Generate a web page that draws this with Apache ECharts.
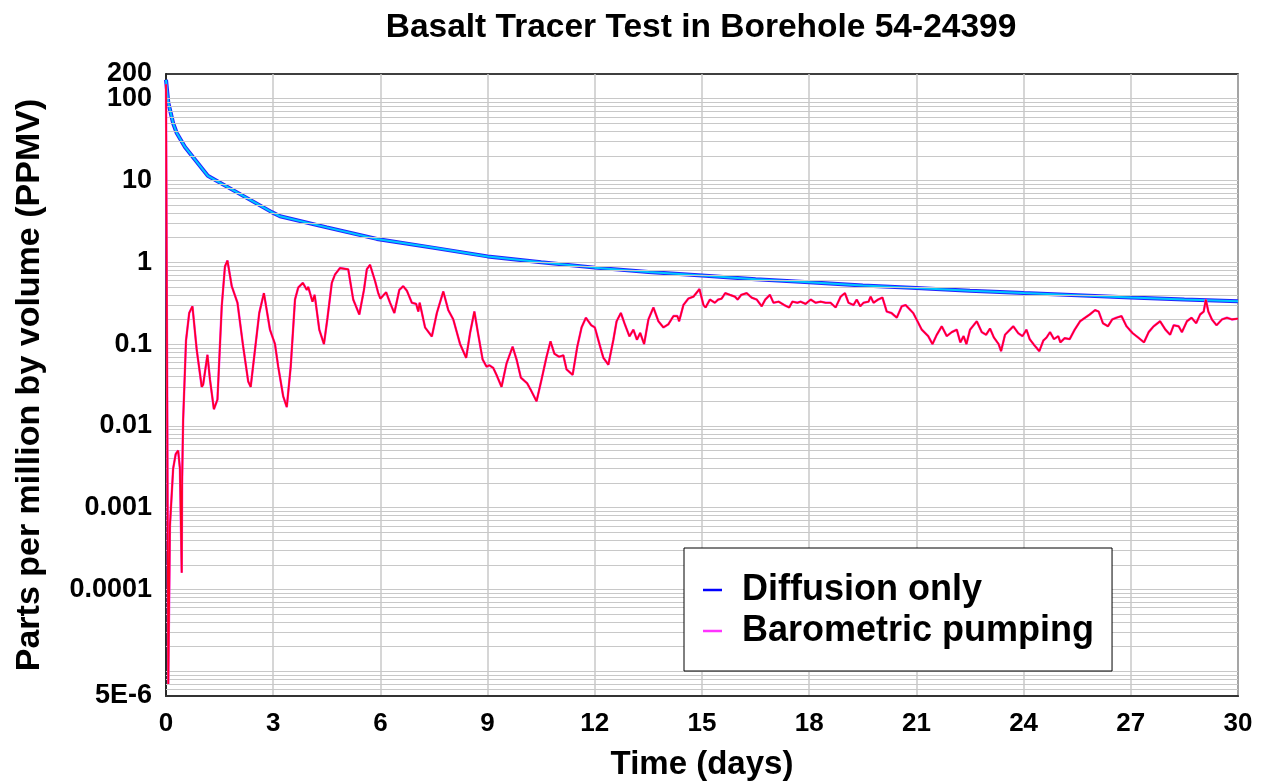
<!DOCTYPE html>
<html>
<head>
<meta charset="utf-8">
<script src="https://cdn.jsdelivr.net/npm/echarts@6/dist/echarts.min.js"></script>
<style>
  html, body { margin: 0; padding: 0; background: #fff; }
  #chart { width: 1266px; height: 783px; }
</style>
</head>
<body>
<div id="chart"></div>
<script>
// diffusion only (days, ppmv)
const diffTime = [0, 0.065, 0.2, 0.3, 0.53, 1.17, 2.0, 2.96, 3.19, 4.5, 5.9, 7.5, 9, 10.5, 12, 13.5, 15, 16.5, 18, 19.5, 21, 22.5, 24, 25.5, 27, 28.5, 30];
const diffPpmv = [170, 89, 50, 38, 25.7, 11.4, 7.1, 4.1, 3.65, 2.67, 1.93, 1.5, 1.18, 1.0, 0.86, 0.76, 0.69, 0.62, 0.57, 0.52, 0.485, 0.45, 0.42, 0.395, 0.37, 0.35, 0.333];

// barometric pumping (days, ppmv)
const baroTime = [0, 0.064, 0.11, 0.2, 0.27, 0.34, 0.39, 0.44, 0.45, 0.48, 0.56, 0.65, 0.74, 0.86, 1.0, 1.04, 1.16, 1.23, 1.34, 1.44,
  1.56, 1.65, 1.72, 1.84, 2.0, 2.16, 2.3, 2.37, 2.49, 2.61, 2.74, 2.91, 3.05, 3.14, 3.28, 3.38, 3.49, 3.61, 3.70, 3.83,
  3.94, 3.98, 4.1, 4.16, 4.29, 4.42, 4.52, 4.64, 4.73, 4.87, 5.1, 5.24, 5.41, 5.54, 5.62, 5.71, 5.85, 5.94, 6.0, 6.16,
  6.27, 6.39, 6.53, 6.64, 6.74, 6.88, 7.0, 7.06, 7.1, 7.25, 7.44, 7.58, 7.76, 7.9, 8.04, 8.23, 8.40, 8.51, 8.63, 8.73,
  8.86, 8.97, 9.05, 9.16, 9.25, 9.39, 9.53, 9.70, 9.81, 9.93, 10.11, 10.2, 10.37, 10.51, 10.65, 10.76, 10.87, 11.0, 11.12, 11.21,
  11.38, 11.51, 11.63, 11.75, 11.9, 12.0, 12.15, 12.24, 12.38, 12.52, 12.61, 12.73, 12.83, 12.97, 13.08, 13.18, 13.27, 13.38, 13.5, 13.64,
  13.78, 13.92, 14.06, 14.2, 14.31, 14.36, 14.48, 14.62, 14.76, 14.93, 15.04, 15.1, 15.22, 15.36, 15.45, 15.55, 15.65, 15.78, 15.92, 16.0,
  16.1, 16.25, 16.39, 16.53, 16.67, 16.77, 16.9, 17.0, 17.15, 17.3, 17.44, 17.53, 17.67, 17.76, 17.9, 18.04, 18.18, 18.32, 18.46, 18.6,
  18.74, 18.88, 19.0, 19.1, 19.24, 19.33, 19.43, 19.52, 19.66, 19.72, 19.8, 19.93, 20.05, 20.17, 20.3, 20.45, 20.59, 20.7, 20.91, 21.15,
  21.33, 21.45, 21.57, 21.71, 21.85, 21.99, 22.13, 22.23, 22.32, 22.4, 22.5, 22.69, 22.83, 22.95, 23.06, 23.17, 23.3, 23.37, 23.48, 23.62,
  23.71, 23.85, 23.97, 24.08, 24.17, 24.3, 24.44, 24.55, 24.64, 24.74, 24.85, 24.97, 25.03, 25.15, 25.29, 25.43, 25.58, 25.72, 25.85, 26.0,
  26.1, 26.22, 26.36, 26.48, 26.6, 26.74, 26.88, 27.05, 27.21, 27.37, 27.5, 27.64, 27.82, 27.97, 28.1, 28.2, 28.34, 28.43, 28.57, 28.7,
  28.83, 28.94, 29.04, 29.1, 29.17, 29.27, 29.4, 29.55, 29.69, 29.83, 30.0];
const baroPpmv = [150, 7e-6, 0.0006, 0.003, 0.0045, 0.005, 0.003, 1.6e-4, 0.002, 0.012, 0.11, 0.24, 0.29, 0.085, 0.030, 0.032, 0.074, 0.037, 0.016, 0.021,
  0.29, 0.89, 1.05, 0.51, 0.32, 0.093, 0.035, 0.030, 0.085, 0.24, 0.42, 0.15, 0.10, 0.053, 0.023, 0.017, 0.053, 0.35, 0.49, 0.56,
  0.46, 0.50, 0.33, 0.40, 0.15, 0.10, 0.21, 0.56, 0.71, 0.85, 0.82, 0.35, 0.23, 0.46, 0.82, 0.93, 0.59, 0.42, 0.36, 0.43,
  0.32, 0.24, 0.46, 0.51, 0.45, 0.32, 0.31, 0.25, 0.32, 0.16, 0.124, 0.24, 0.44, 0.26, 0.20, 0.10, 0.068, 0.137, 0.25, 0.137,
  0.065, 0.053, 0.055, 0.051, 0.042, 0.030, 0.058, 0.093, 0.065, 0.039, 0.033, 0.028, 0.020, 0.037, 0.070, 0.108, 0.076, 0.07, 0.073, 0.049,
  0.042, 0.093, 0.16, 0.21, 0.17, 0.16, 0.093, 0.068, 0.056, 0.113, 0.19, 0.24, 0.18, 0.124, 0.15, 0.113, 0.137, 0.10, 0.20, 0.28,
  0.19, 0.16, 0.175, 0.22, 0.22, 0.19, 0.30, 0.36, 0.38, 0.47, 0.30, 0.28, 0.35, 0.32, 0.35, 0.36, 0.42, 0.40, 0.38, 0.35,
  0.40, 0.42, 0.37, 0.35, 0.29, 0.35, 0.40, 0.32, 0.33, 0.30, 0.28, 0.33, 0.32, 0.33, 0.31, 0.35, 0.32, 0.33, 0.32, 0.32,
  0.28, 0.38, 0.42, 0.32, 0.30, 0.35, 0.29, 0.32, 0.33, 0.38, 0.32, 0.35, 0.37, 0.25, 0.24, 0.21, 0.29, 0.30, 0.24, 0.15,
  0.125, 0.10, 0.13, 0.165, 0.125, 0.14, 0.15, 0.105, 0.125, 0.10, 0.15, 0.19, 0.14, 0.13, 0.155, 0.12, 0.10, 0.082, 0.13, 0.15,
  0.165, 0.136, 0.125, 0.15, 0.115, 0.097, 0.082, 0.11, 0.12, 0.14, 0.115, 0.125, 0.105, 0.118, 0.115, 0.15, 0.19, 0.21, 0.23, 0.26,
  0.25, 0.18, 0.165, 0.20, 0.21, 0.22, 0.165, 0.136, 0.12, 0.105, 0.14, 0.165, 0.19, 0.15, 0.13, 0.17, 0.165, 0.14, 0.19, 0.21,
  0.18, 0.23, 0.25, 0.35, 0.25, 0.20, 0.17, 0.20, 0.21, 0.20, 0.205];

// y tick labels
const yTickValues = [5e-6, 1e-4, 1e-3, 0.01, 0.1, 1, 10, 100, 200];
const yTickText = ['5E-6', '0.0001', '0.001', '0.01', '0.1', '1', '10', '100', '200'];

const FONT = '"Liberation Sans", Arial, sans-serif';

function pairs(xs, ys) {
  return xs.map((x, i) => [x, ys[i]]);
}

function yLabel(v) {
  for (let i = 0; i < yTickValues.length; i++) {
    if (Math.abs(v - yTickValues[i]) / yTickValues[i] < 1e-6) return yTickText[i];
  }
  return '';
}

// log grid lines 1..9 x 10^e
const gridLines = [];
for (let e = -6; e <= 2; e++) {
  for (let k = 1; k <= 9; k++) {
    const v = k * Math.pow(10, e);
    if (v > 5.01e-6 && v < 199) gridLines.push({ yAxis: v });
  }
}

const yLabelStyle = { margin: 14, fontFamily: FONT, fontSize: 27, fontWeight: 'bold', color: '#000', lineHeight: 18 };

const chart = echarts.init(document.getElementById('chart'));
chart.setOption({
  animation: false,
  backgroundColor: '#fff',
  title: {
    text: 'Basalt Tracer Test in Borehole 54-24399',
    left: 696,
    top: 6,
    textAlign: 'center',
    textStyle: { fontFamily: FONT, fontSize: 33.5, fontWeight: 'bold', color: '#000' }
  },
  grid: {
    left: 166, right: 28, top: 74, bottom: 87,
    outerBoundsMode: 'none',
    containLabel: false,
    show: true, borderColor: '#000', borderWidth: 1.5, backgroundColor: '#fff'
  },
  legend: {
    orient: 'vertical',
    left: 684,
    top: 548,
    z: 50,
    padding: [23, 18, 21, 19],
    itemGap: 3,
    itemWidth: 19,
    itemHeight: 2.5,
    icon: 'rect',
    backgroundColor: '#fff',
    borderColor: '#000',
    borderWidth: 1,
    data: ['Diffusion only', 'Barometric pumping'],
    textStyle: {
      fontFamily: FONT, fontSize: 36, fontWeight: 'bold', color: '#000',
      lineHeight: 38, padding: [0, 0, 0, 15]
    }
  },
  xAxis: {
    type: 'value',
    min: 0, max: 30, interval: 3,
    name: 'Time (days)',
    nameLocation: 'middle',
    nameGap: 52,
    nameTextStyle: { fontFamily: FONT, fontSize: 33, fontWeight: 'bold', color: '#000' },
    axisLine: { show: true, lineStyle: { color: '#333', width: 2 } },
    axisTick: { show: false },
    axisLabel: { margin: 15, fontFamily: FONT, fontSize: 26, fontWeight: 'bold', color: '#000' },
    splitLine: { show: true, lineStyle: { color: '#c8c8c8', width: 1.5 } }
  },
  yAxis: [
    {
      type: 'log',
      logBase: 10,
      min: 5e-6, max: 200,
      name: 'Parts per million by volume (PPMV)',
      nameLocation: 'middle',
      nameGap: 119,
      nameTextStyle: { fontFamily: FONT, fontSize: 34, fontWeight: 'bold', color: '#000' },
      axisLine: { show: true, lineStyle: { color: '#000', width: 1.5 } },
      axisTick: { show: false },
      axisLabel: Object.assign({}, yLabelStyle, {
        formatter: v => (Math.abs(v - 200) < 1e-6 ? '' : yLabel(v)),
        showMinLabel: true, showMaxLabel: false
      }),
      splitLine: { show: false }
    },
    {
      // only carries the top "200" label, which would collide with "100"
      type: 'log',
      logBase: 10,
      min: 5e-6, max: 200,
      position: 'left',
      axisLine: { show: false },
      axisTick: { show: false },
      axisLabel: Object.assign({}, yLabelStyle, {
        formatter: v => (Math.abs(v - 200) < 1e-6 ? yLabel(v) : ''),
        showMinLabel: false, showMaxLabel: true
      }),
      splitLine: { show: false }
    }
  ],
  series: [
    {
      name: 'grid', type: 'line', data: [], silent: true, z: 1,
      markLine: {
        silent: true, symbol: ['none', 'none'], label: { show: false },
        precision: 12,
        lineStyle: { color: '#c8c8c8', width: 1, type: 'solid' },
        emphasis: { disabled: true },
        data: gridLines
      }
    },
    {
      name: 'Diffusion only', type: 'line', data: pairs(diffTime, diffPpmv),
      showSymbol: false, z: 3,
      itemStyle: { color: '#0000ff' },
      lineStyle: { color: '#2222ff', width: 4 }
    },
    {
      name: 'Diffusion (cyan)', type: 'line', data: pairs(diffTime, diffPpmv),
      showSymbol: false, z: 4,
      itemStyle: { color: '#00c8ff' },
      lineStyle: { color: '#00c8ff', width: 2 }
    },
    {
      name: 'Barometric pumping', type: 'line', data: pairs(baroTime, baroPpmv),
      showSymbol: false, z: 5,
      itemStyle: { color: '#ff33ff' },
      lineStyle: { color: '#ff33ff', width: 2.4 }
    },
    {
      name: 'Barometric (red)', type: 'line', data: pairs(baroTime, baroPpmv),
      showSymbol: false, z: 6,
      itemStyle: { color: '#ff0022' },
      lineStyle: { color: '#ff0022', width: 1.7 }
    }
  ]
});
</script>
</body>
</html>
